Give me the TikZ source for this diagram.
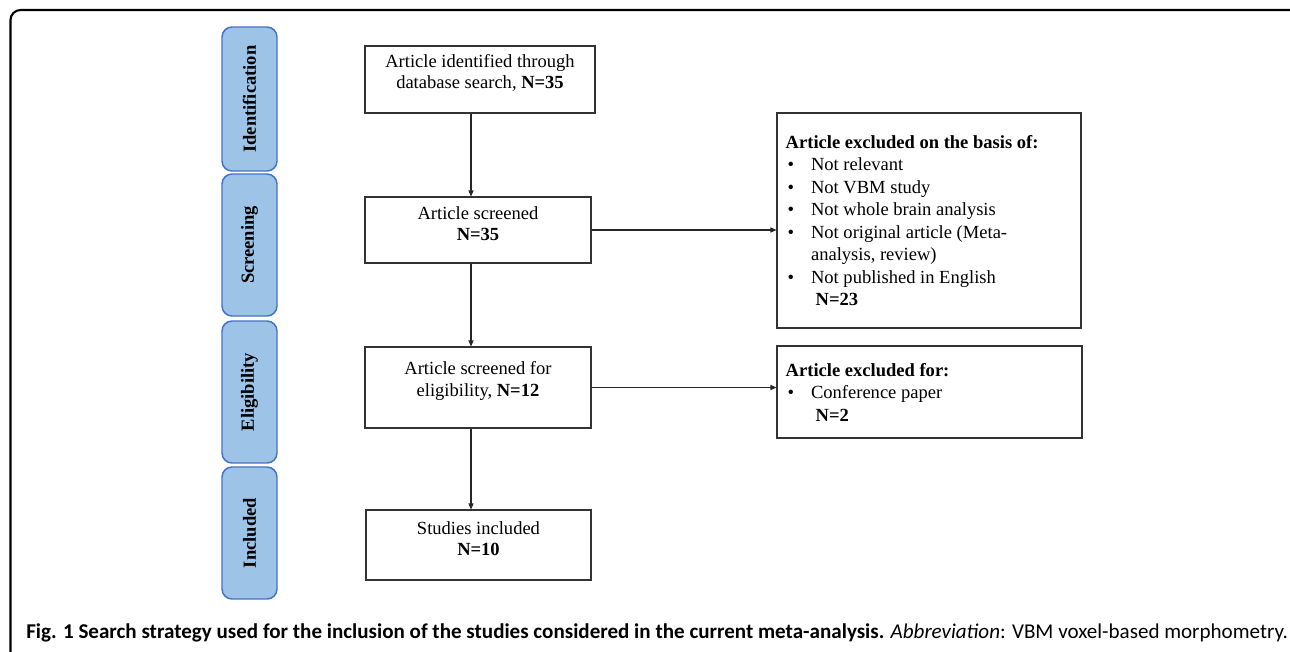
\documentclass[tikz,border=0pt]{standalone}
\usepackage{fontspec}
\setmainfont{Liberation Serif}
\newfontfamily\capfont{Carlito}
\usetikzlibrary{fit,arrows.meta}
\definecolor{stagefill}{HTML}{9DC3E6}
\definecolor{stagedraw}{HTML}{4472C4}
\tikzset{
  stagebox/.style={draw=stagedraw, fill=stagefill, line width=1.1pt, rounded corners=7.5pt, inner sep=0pt},
  stagetext/.style={rotate=90, font=\fontsize{13.9}{16}\selectfont\bfseries},
  mainbox/.style={draw=black!80, line width=0.8pt, inner sep=0pt, align=center, font=\fontsize{13.9}{16.2}\selectfont},
  exbox/.style={draw=black!80, line width=0.8pt, inner sep=0pt},
  extext/.style={anchor=west, inner sep=0pt, xshift=6.75pt, align=left, font=\fontsize{13.9}{16.9}\selectfont},
  arr/.style={line width=0.8pt, draw=black!85, -{Triangle[length=4.5pt,width=3.8pt]}},
  frame/.style={line width=1.6pt, rounded corners=7.5pt}
}
\newcommand{\bul}{\makebox[19pt][l]{\hspace{1.5pt}\textbullet}}
\newcommand{\nobul}{\makebox[19pt][l]{}}
\begin{document}
\begin{tikzpicture}[x=0.75pt,y=-0.75pt]
\useasboundingbox (0,0) rectangle (1290,651);
\clip (0,0) rectangle (1290,651);
\draw[frame] (10.5,680) -- (10.5,10) -- (1300,10) -- (1300,680);
% stage boxes
\node[stagebox, fit={(222,27)(277,171)}] (s1) {};
\node[stagetext] at (s1.center) {Identification};
\node[stagebox, fit={(222,174)(277,316)}] (s2) {};
\node[stagetext] at (s2.center) {Screening};
\node[stagebox, fit={(222,321)(277,463)}] (s3) {};
\node[stagetext] at (s3.center) {Eligibility};
\node[stagebox, fit={(222,467)(277,599)}] (s4) {};
\node[stagetext] at (s4.center) {Included};
% main boxes
\node[mainbox, fit={(365,46)(595,113)}] (b1) {Article identified through\\database search, \textbf{N=35}};
\node[mainbox, fit={(365,197)(591,263)}] (b2) {Article screened\\\textbf{N=35}};
\node[mainbox, fit={(365,347)(591,428)}] (b3) {Article screened for\\eligibility, \textbf{N=12}};
\node[mainbox, fit={(366,510)(591,580)}] (b4) {Studies included\\\textbf{N=10}};
% exclusion boxes
\node[exbox, fit={(777,113)(1081,328)}] (e1) {};
\node[extext] (t1) at (e1.west) {\textbf{Article excluded on the basis of:}\\
\bul Not relevant\\
\bul Not VBM study\\
\bul Not whole brain analysis\\
\bul Not original article (Meta-\\
\nobul analysis, review)\\
\bul Not published in English\\
\nobul\ \textbf{N=23}};
\node[exbox, fit={(777,346)(1082,438)}] (e2) {};
\node[extext] (t2) at (e2.west) {\textbf{Article excluded for:}\\
\bul Conference paper\\
\nobul\ \textbf{N=2}};
% connectors
\coordinate (ax) at (471,0);
\draw[arr] (b1.south -| ax) -- (b2.north -| ax);
\draw[arr] (b2.south -| ax) -- (b3.north -| ax);
\draw[arr] (b3.south -| ax) -- (b4.north -| ax);
\draw[arr] (b2.east) -- (b2.east -| e1.west);
\draw[arr] (b3.east) -- (b3.east -| e2.west);
% caption
\node[anchor=base west, inner sep=0pt, font=\capfont\fontsize{15.8}{18}\selectfont] (cap) at (26,638) {\textbf{Fig. 1 Search strategy used for the inclusion of the studies considered in the current meta-analysis.} \textit{Abbreviation}: VBM voxel-based morphometry.};
\end{tikzpicture}
\end{document}
